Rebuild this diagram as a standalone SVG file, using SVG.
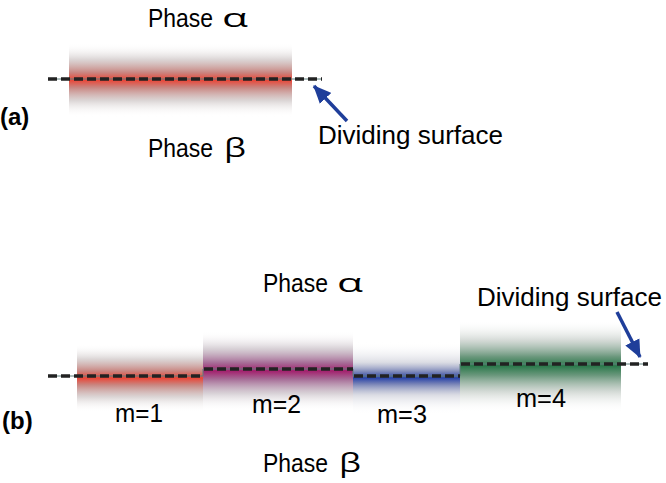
<svg xmlns="http://www.w3.org/2000/svg" width="666" height="483" viewBox="0 0 666 483">
<style>
text{font-family:"Liberation Sans",Arial,sans-serif;fill:#000}
.ph{font-size:26px}
.gr{font-size:25px;font-family:"Open Sans","Noto Sans",sans-serif;font-weight:400}
.ds{font-size:26px}
.m{font-size:25px}
.lab{font-size:24px;font-weight:bold}
.base{stroke:#5e7f7c;stroke-width:1;fill:none}
.dash{stroke:#222;stroke-width:3.5;stroke-dasharray:9 4;fill:none}
.arr{stroke:#1f3e9a;stroke-width:3.5;fill:none}
</style>
<defs>
<linearGradient id="gRed" x1="0" y1="0" x2="0" y2="1">
<stop offset="0" stop-color="#fff" stop-opacity="0"/>
<stop offset="0.22" stop-color="#c9c0c0" stop-opacity="0.65"/>
<stop offset="0.4" stop-color="#c98580"/>
<stop offset="0.5" stop-color="#ea4536"/>
<stop offset="0.6" stop-color="#c98580"/>
<stop offset="0.78" stop-color="#c9c0c0" stop-opacity="0.65"/>
<stop offset="1" stop-color="#fff" stop-opacity="0"/>
</linearGradient>
<linearGradient id="gMag" x1="0" y1="0" x2="0" y2="1">
<stop offset="0" stop-color="#fff" stop-opacity="0"/>
<stop offset="0.22" stop-color="#c3b9c1" stop-opacity="0.65"/>
<stop offset="0.4" stop-color="#a66b96"/>
<stop offset="0.5" stop-color="#a3216e"/>
<stop offset="0.6" stop-color="#a66b96"/>
<stop offset="0.78" stop-color="#c3b9c1" stop-opacity="0.65"/>
<stop offset="1" stop-color="#fff" stop-opacity="0"/>
</linearGradient>
<linearGradient id="gBlue" x1="0" y1="0" x2="0" y2="1">
<stop offset="0" stop-color="#fff" stop-opacity="0"/>
<stop offset="0.28" stop-color="#c0c2cf" stop-opacity="0.55"/>
<stop offset="0.42" stop-color="#7581b6"/>
<stop offset="0.5" stop-color="#2a44a8"/>
<stop offset="0.58" stop-color="#7581b6"/>
<stop offset="0.74" stop-color="#c0c2cf" stop-opacity="0.55"/>
<stop offset="1" stop-color="#fff" stop-opacity="0"/>
</linearGradient>
<linearGradient id="gGreen" x1="0" y1="0" x2="0" y2="1">
<stop offset="0" stop-color="#fff" stop-opacity="0"/>
<stop offset="0.22" stop-color="#bec7c1" stop-opacity="0.65"/>
<stop offset="0.4" stop-color="#6a977c"/>
<stop offset="0.5" stop-color="#2b794b"/>
<stop offset="0.6" stop-color="#6a977c"/>
<stop offset="0.78" stop-color="#bec7c1" stop-opacity="0.65"/>
<stop offset="1" stop-color="#fff" stop-opacity="0"/>
</linearGradient>
<marker id="ah" markerUnits="userSpaceOnUse" markerWidth="18" markerHeight="16" refX="15" refY="7" orient="auto" viewBox="0 0 16 14">
<path d="M0,0 L16,7 L0,14 Z" fill="#1f3e9a"/>
</marker>
</defs>

<g id="panel-a">
<g id="a-band"><rect x="69" y="43" width="223" height="74" fill="url(#gRed)"/></g>
<text class="ph" x="148" y="27" textLength="65" lengthAdjust="spacingAndGlyphs">Phase</text>
<text class="gr" x="222" y="27" textLength="26" lengthAdjust="spacingAndGlyphs">α</text>
<text class="ph" x="148" y="157" textLength="65" lengthAdjust="spacingAndGlyphs">Phase</text>
<text class="gr" x="224" y="157" textLength="22" lengthAdjust="spacingAndGlyphs">β</text>
<text class="lab" x="0" y="125">(a)</text>
<text class="ds" x="318" y="144" textLength="185" lengthAdjust="spacingAndGlyphs">Dividing surface</text>
</g>

<g id="panel-b">
<g id="m1"><rect x="77" y="344" width="126" height="68" fill="url(#gRed)"/><text class="m" x="115" y="422" textLength="48" lengthAdjust="spacingAndGlyphs">m=1</text></g>
<g id="m2"><rect x="203" y="331" width="150" height="80" fill="url(#gMag)"/><text class="m" x="252" y="413" textLength="49" lengthAdjust="spacingAndGlyphs">m=2</text></g>
<g id="m3"><rect x="353" y="342" width="107" height="72" fill="url(#gBlue)"/><text class="m" x="377" y="423" textLength="50" lengthAdjust="spacingAndGlyphs">m=3</text></g>
<g id="m4"><rect x="460" y="320" width="161" height="92" fill="url(#gGreen)"/><text class="m" x="516" y="407" textLength="50" lengthAdjust="spacingAndGlyphs">m=4</text></g>
<text class="ph" x="263" y="292" textLength="65" lengthAdjust="spacingAndGlyphs">Phase</text>
<text class="gr" x="337" y="292" textLength="26" lengthAdjust="spacingAndGlyphs">α</text>
<text class="ph" x="263" y="472" textLength="65" lengthAdjust="spacingAndGlyphs">Phase</text>
<text class="gr" x="339" y="472" textLength="22" lengthAdjust="spacingAndGlyphs">β</text>
<text class="lab" x="2" y="429">(b)</text>
<text class="ds" x="477" y="306" font-size="24" textLength="185" lengthAdjust="spacingAndGlyphs">Dividing surface</text>
</g>

<g id="connectors">
<line class="base" x1="48" y1="79" x2="322" y2="79"/>
<line class="dash" x1="48" y1="79" x2="322" y2="79"/>
<line class="arr" x1="347" y1="121" x2="314" y2="86" marker-end="url(#ah)"/>

<polyline class="base" points="48,376 203,376 203,369 353,369 353,376 460,376 460,364 648,364"/>
<line class="dash" x1="48" y1="376" x2="203" y2="376"/>
<line class="dash" x1="204" y1="369" x2="353" y2="369"/>
<line class="dash" x1="354" y1="376" x2="460" y2="376"/>
<line class="dash" x1="461" y1="364" x2="648" y2="364"/>
<line class="arr" x1="617" y1="312" x2="640" y2="357" marker-end="url(#ah)"/>
</g>
</svg>
